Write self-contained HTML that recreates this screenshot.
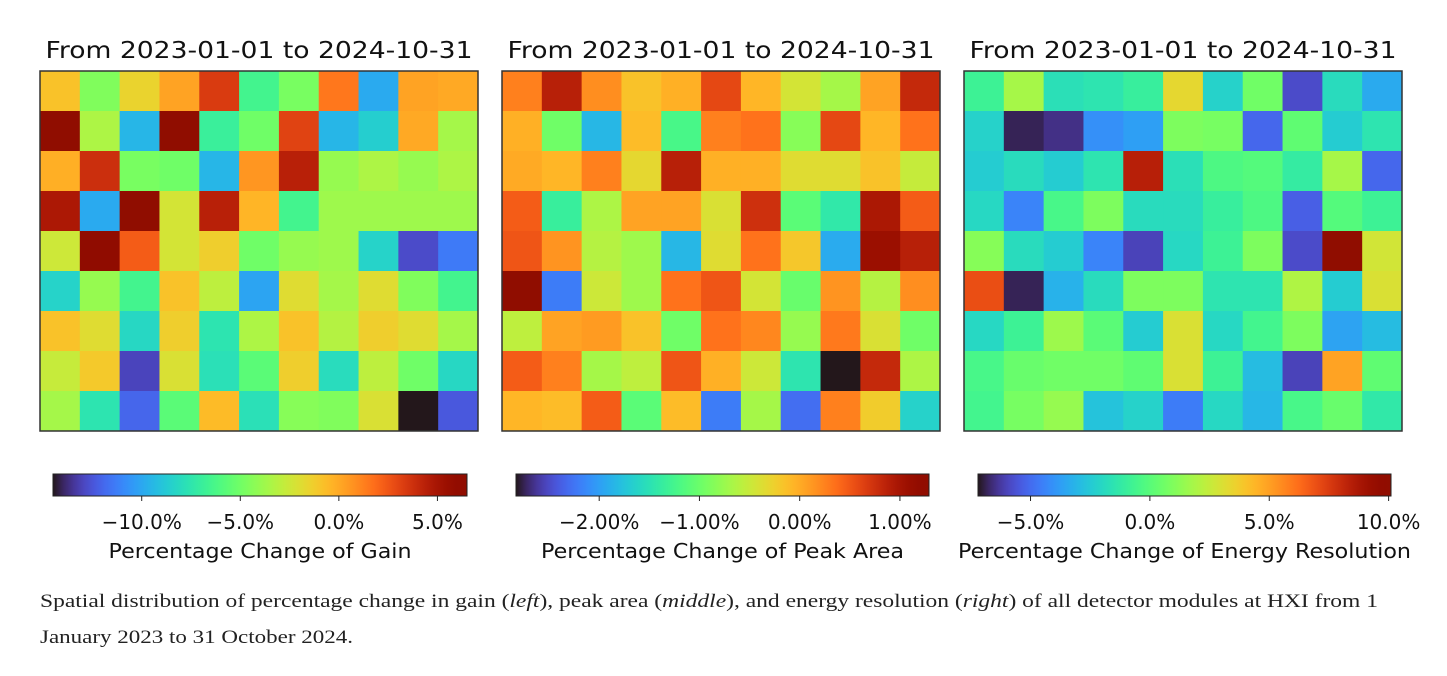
<!DOCTYPE html>
<html><head><meta charset="utf-8">
<style>
html,body{margin:0;padding:0;background:#fff;}
svg{display:block;}
</style></head>
<body>
<svg id="fig" width="1447" height="676" viewBox="0 0 1447 676" xmlns="http://www.w3.org/2000/svg">
<g id="panels"></g>
<text x="40" y="607" font-family="Liberation Serif, serif" font-size="19" fill="#222" textLength="1338" lengthAdjust="spacingAndGlyphs">Spatial distribution of percentage change in gain (<tspan font-style="italic">left</tspan>), peak area (<tspan font-style="italic">middle</tspan>), and energy resolution (<tspan font-style="italic">right</tspan>) of all detector modules at HXI from 1</text>
<text x="40" y="643" font-family="Liberation Serif, serif" font-size="19" fill="#222" textLength="313" lengthAdjust="spacingAndGlyphs">January 2023 to 31 October 2024.</text>
</svg>
<script>
// ---- data (percent change per module, 9 rows x 11 cols) ----
const gainValues = [
[-0.85,-4.6,-1.5,0.2,3.35,-6.5,-4.8,1.5,-9.9,0.2,0.0],
[6.5,-3.4,-9.5,6.5,-6.9,-5.05,3.1,-9.5,-8.6,0.0,-3.6],
[-0.2,3.8,-4.8,-5.05,-9.5,0.6,4.4,-4.0,-3.4,-4.0,-3.4],
[4.8,-9.9,6.5,-2.3,4.4,-0.4,-6.5,-3.8,-3.8,-3.8,-3.8],
[-2.5,6.3,2.3,-2.3,-1.3,-5.05,-4.0,-3.8,-8.4,-12.8,-11.4],
[-8.4,-4.0,-6.5,-0.85,-2.95,-10.1,-1.9,-3.6,-1.9,-4.6,-6.5],
[-0.85,-1.9,-8.2,-1.3,-7.6,-3.4,-0.85,-3.2,-1.3,-1.9,-3.6],
[-2.7,-1.1,-13.0,-2.1,-7.8,-5.7,-1.3,-8.0,-2.95,-5.05,-8.2],
[-3.6,-7.6,-12.0,-5.7,-0.6,-7.8,-4.4,-4.6,-2.1,-14.5,-12.4]
];
const peakValues = [
[0.26,0.88,0.18,-0.15,-0.03,0.59,-0.07,-0.44,-0.69,0.05,0.80],
[-0.03,-0.98,-1.84,-0.11,-1.22,0.26,0.34,-0.85,0.59,-0.07,0.34],
[0.01,-0.07,0.26,-0.32,0.88,-0.03,-0.03,-0.36,-0.36,-0.15,-0.52],
[0.47,-1.35,-0.65,0.05,0.05,-0.40,0.75,-1.10,-1.43,0.96,0.47],
[0.51,0.14,-0.61,-0.73,-1.84,-0.36,0.34,-0.19,-1.92,1.08,0.88],
[1.29,-2.21,-0.48,-0.73,0.34,0.51,-0.44,-1.02,0.14,-0.61,0.18],
[-0.56,0.05,0.10,-0.15,-0.98,0.34,0.22,-0.77,0.30,-0.40,-0.98],
[0.47,0.26,-0.69,-0.56,0.51,-0.03,-0.48,-1.47,-2.83,0.80,-0.65],
[-0.07,-0.11,0.47,-1.10,-0.11,-2.21,-0.69,-2.29,0.26,-0.23,-1.64]
];
const resValues = [
[-0.8,1.8,-1.7,-1.5,-1.0,3.35,-2.2,0.6,-5.8,-1.85,-3.4],
[-2.2,-6.85,-6.5,-4.1,-3.7,0.9,0.75,-5.1,0.2,-2.4,-1.5],
[-2.4,-1.85,-2.4,-1.5,8.4,-1.7,-0.3,-0.1,-1.15,1.8,-5.1],
[-2.0,-4.4,-0.45,0.9,-1.85,-1.85,-1.0,-0.3,-5.3,-0.1,-0.8],
[1.1,-1.85,-2.4,-4.4,-6.0,-2.0,-0.8,0.9,-5.8,10.1,2.8],
[7.0,-6.85,-3.2,-1.85,0.9,0.9,-1.5,-1.5,2.0,-2.4,3.0],
[-2.0,-0.8,1.6,0.05,-2.4,3.0,-2.0,-0.6,0.9,-3.6,-2.9],
[-0.45,0.4,0.6,0.6,0.2,3.0,-0.8,-2.9,-6.0,4.9,0.2],
[-0.6,0.75,1.45,-2.7,-2.2,-4.6,-2.0,-3.05,-0.45,0.4,-1.3]
];
const gainRange = [-14.5, 6.5];
const peakRange = [-2.83, 1.29];
const resRange = [-7.2, 10.1];
const gainTicks = [-10, -5, 0, 5];
const gainTickLabels = ["\u221210.0%","\u22125.0%","0.0%","5.0%"];
const peakTicks = [-2, -1, 0, 1];
const peakTickLabels = ["\u22122.00%","\u22121.00%","0.00%","1.00%"];
const resTicks = [-5, 0, 5, 10];
const resTickLabels = ["\u22125.0%","0.0%","5.0%","10.0%"];
const titleText = "From 2023-01-01 to 2024-10-31";
const cbLabels = ["Percentage Change of Gain","Percentage Change of Peak Area","Percentage Change of Energy Resolution"];

function turbo(t){
  t=Math.max(0,Math.min(1,t));
  const r=0.13572138+t*(4.61539260+t*(-42.66032258+t*(132.13108234+t*(-152.94239396+t*59.28637943))));
  const g=0.09140261+t*(2.19418839+t*(4.84296658+t*(-14.18503333+t*(4.27729857+t*2.82956604))));
  const b=0.10667330+t*(12.64194608+t*(-60.58204836+t*(110.36276771+t*(-89.90310912+t*27.34824973))));
  const c=v=>Math.round(255*Math.max(0,Math.min(1,v)));
  return `rgb(${c(r)},${c(g)},${c(b)})`;
}
const NS="http://www.w3.org/2000/svg";
const root=document.getElementById('panels');
function mk(tag,attrs,parent){const e=document.createElementNS(NS,tag);for(const k in attrs)e.setAttribute(k,attrs[k]);(parent||root).appendChild(e);return e;}

const panels=[
 {id:'gain',vals:gainValues,range:gainRange,ticks:gainTicks,labels:gainTickLabels,x0:40,cbx0:53,cbx1:467,lab:cbLabels[0],labW:303},
 {id:'peak-area',vals:peakValues,range:peakRange,ticks:peakTicks,labels:peakTickLabels,x0:502,cbx0:516,cbx1:929,lab:cbLabels[1],labW:363},
 {id:'energy-resolution',vals:resValues,range:resRange,ticks:resTicks,labels:resTickLabels,x0:964,cbx0:978,cbx1:1391,lab:cbLabels[2],labW:453}
];
const W=438,H=360,Y0=71,CBY=474,CBH=22;
panels.forEach((p,pi)=>{
  const g=mk('g',{});
  
  
  const t=mk('text',{x:p.x0+W/2,y:58,'text-anchor':'middle','font-family':'DejaVu Sans, Liberation Sans, sans-serif','font-size':'23',fill:'#111',textLength:'427',lengthAdjust:'spacingAndGlyphs'},g);
  t.textContent=titleText;
  
  
  const rows=p.vals.length, cols=p.vals[0].length;
  const cw=W/cols, ch=H/rows;
  const norm=v=>(v-p.range[0])/(p.range[1]-p.range[0]);
  p.vals.forEach((row,r)=>row.forEach((v,c)=>{
    const cell=mk('rect',{x:p.x0+c*cw,y:Y0+r*ch,width:cw+0.5,height:ch+0.5,fill:turbo(norm(v))},g);
    
    
  }));
  const fr=mk('rect',{x:p.x0,y:Y0,width:W,height:H,fill:'none',stroke:'#333','stroke-width':'1.5'},g);
  
  
  const gid='grad'+pi;
  const defs=mk('defs',{},g);
  const lg=mk('linearGradient',{id:gid,x1:'0',x2:'1',y1:'0',y2:'0'},defs);
  for(let i=0;i<=40;i++){mk('stop',{offset:(i/40),'stop-color':turbo(i/40)},lg);}
  const cb=mk('rect',{x:p.cbx0,y:CBY,width:p.cbx1-p.cbx0,height:CBH,fill:`url(#${gid})`,stroke:'#222','stroke-width':'1'},g);
  
  
  const sx=v=>p.cbx0+norm(v)*(p.cbx1-p.cbx0);
  p.ticks.forEach((tv,i)=>{
    const x=sx(tv);
    const tk=mk('line',{x1:x,x2:x,y1:CBY+CBH,y2:CBY+CBH+5,stroke:'#222','stroke-width':'1'},g);
    
    
    const tl=mk('text',{x:x,y:529,'text-anchor':'middle','font-family':'DejaVu Sans, Liberation Sans, sans-serif','font-size':'20',fill:'#111'},g);
    tl.textContent=p.labels[i];
    
    
  });
  const cl=mk('text',{x:(p.cbx0+p.cbx1)/2,y:558,'text-anchor':'middle','font-family':'DejaVu Sans, Liberation Sans, sans-serif','font-size':'20.5',fill:'#111',textLength:p.labW,lengthAdjust:'spacingAndGlyphs'},g);
  cl.textContent=p.lab;
  
  
});
</script>
</body></html>
